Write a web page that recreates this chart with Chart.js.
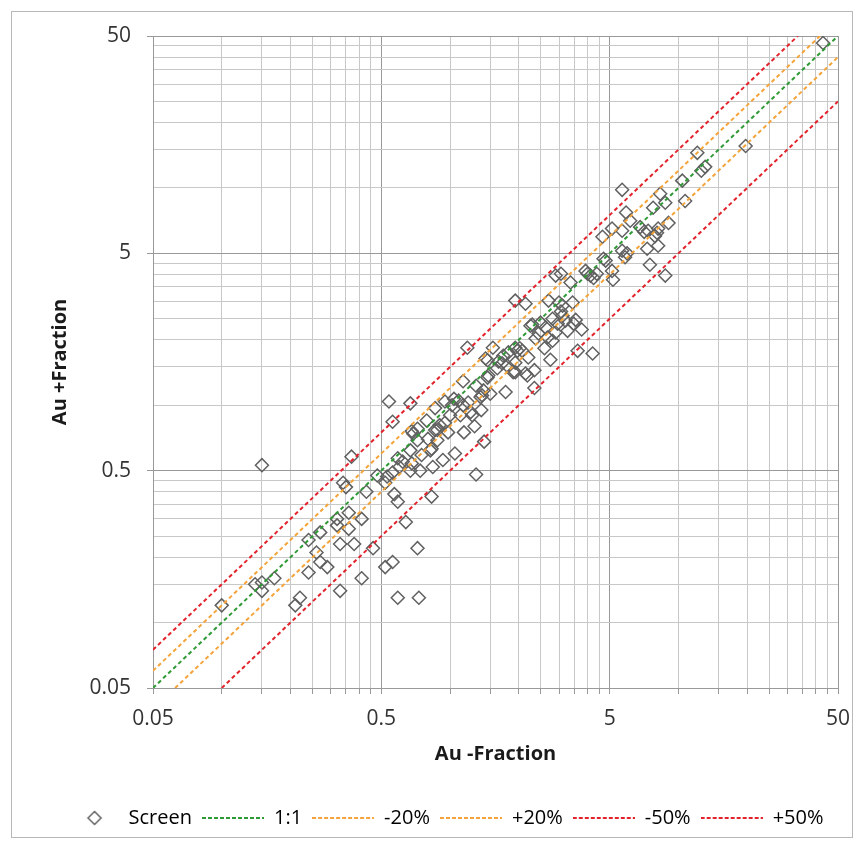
<!DOCTYPE html>
<html>
<head>
<meta charset="utf-8">
<script src="https://cdn.jsdelivr.net/npm/chart.js@4.4.0/dist/chart.umd.min.js"></script>
<style>
  html, body { margin: 0; padding: 0; background: #fff; }
  #wrap { width: 864px; height: 850px; }
</style>
</head>
<body>
<div id="wrap"><canvas id="myChart" width="864" height="850"></canvas></div>
<script>
// Au in the minus fraction (x) against the plus fraction (y)
var screenX = [
  0.10, 0.14, 0.15, 0.15, 0.17, 0.15, 0.21, 0.22, 0.24, 0.27,
  0.26, 0.27, 0.29, 0.24, 0.33, 0.33, 0.32, 0.32, 0.36, 0.36,
  0.38, 0.37, 0.34, 0.35, 0.41, 0.41, 0.43, 0.46, 0.48, 0.52,
  0.52, 0.56, 0.56, 0.59, 0.57, 0.59, 0.59, 0.54, 0.56, 0.64,
  0.60, 0.62, 0.68, 0.67, 0.67, 0.68, 0.72, 0.72, 0.72, 0.73,
  0.75, 0.83, 0.79, 0.80, 0.82, 0.84, 0.86, 0.88, 0.88, 0.90,
  0.93, 0.95, 0.95, 0.98, 1.00, 1.02, 1.04, 1.05, 1.09, 1.11,
  1.14, 1.14, 1.15, 1.19, 1.23, 1.25, 1.28, 1.30, 1.30, 1.36,
  1.37, 1.38, 1.40, 1.41, 1.46, 1.46, 1.47, 1.50, 1.54, 1.61,
  1.63, 1.69, 1.71, 1.75, 1.78, 1.80, 1.93, 1.93, 1.93, 1.93,
  1.97, 2.02, 2.14, 2.14, 2.18, 2.20, 2.29, 2.34, 2.34, 2.37,
  2.44, 2.49, 2.62, 2.59, 2.67, 2.70, 2.75, 2.81, 2.81, 2.90,
  2.96, 3.00, 3.06, 3.06, 3.11, 3.11, 3.20, 3.37, 3.44, 3.48,
  3.55, 3.62, 3.77, 3.92, 4.00, 4.12, 4.21, 4.25, 4.39, 4.65,
  4.70, 4.80, 5.12, 5.12, 5.17, 5.67, 5.67, 5.67, 5.90, 5.96,
  6.15, 6.80, 7.08, 7.30, 7.37, 7.50, 7.75, 7.90, 8.06, 8.15,
  8.15, 8.32, 8.76, 8.76, 9.05, 10.4, 10.7, 12.1, 12.6, 13.1,
  19.7, 43.0, 5.84, 2.25, 2.90, 3.27, 2.07, 1.43, 1.89, 1.20,
  0.69, 0.86, 0.83, 0.74, 0.53, 0.67
];
var screenY = [
  0.12, 0.15, 0.153, 0.14, 0.16, 0.53, 0.12, 0.13, 0.24, 0.26,
  0.21, 0.19, 0.18, 0.17, 0.23, 0.14, 0.30, 0.28, 0.32, 0.27,
  0.23, 0.58, 0.44, 0.42, 0.30, 0.16, 0.40, 0.22, 0.475, 0.44,
  0.18, 0.49, 0.19, 0.57, 0.39, 0.36, 0.13, 1.04, 0.84, 0.29,
  0.52, 0.55, 0.54, 0.62, 1.02, 0.76, 0.78, 0.69, 0.22, 0.13,
  0.59, 0.38, 0.85, 0.70, 0.62, 0.52, 0.97, 0.69, 0.77, 0.81,
  0.56, 1.04, 0.83, 0.75, 0.90, 1.00, 1.07, 0.60, 1.05, 0.90,
  1.29, 1.00, 0.75, 1.84, 0.93, 0.90, 0.80, 1.23, 0.48, 1.09,
  0.95, 1.11, 1.17, 0.68, 1.34, 1.61, 1.37, 1.13, 1.84, 1.48,
  1.59, 1.56, 1.69, 1.15, 1.52, 1.75, 1.57, 1.84, 3.03, 1.42,
  1.78, 1.83, 2.93, 1.40, 1.37, 1.66, 2.35, 1.45, 1.20, 2.03,
  2.14, 2.40, 2.28, 1.83, 2.05, 3.03, 1.62, 2.50, 1.98, 3.95,
  2.37, 2.97, 2.70, 4.03, 2.58, 2.87, 2.45, 3.67, 2.97, 2.37,
  2.47, 1.78, 2.23, 4.15, 4.03, 3.95, 1.73, 3.85, 4.03, 5.96,
  4.72, 4.63, 6.50, 4.15, 3.78, 9.80, 6.35, 5.14, 7.70, 5.00,
  7.06, 6.60, 6.28, 5.25, 6.35, 4.43, 8.10, 6.00, 6.22, 6.50,
  5.42, 9.40, 8.54, 3.95, 6.90, 10.8, 8.70, 14.5, 12.0, 12.5,
  15.6, 46.4, 4.80, 2.32, 2.16, 2.20, 1.78, 1.64, 1.42, 1.03,
  0.74, 0.77, 0.63, 0.50, 0.47, 0.50
];

// reference lines, end points on the plot frame
var oneToOneX = [0.05, 50],   oneToOneY = [0.05, 50];
var minus20X  = [0.0625, 50], minus20Y  = [0.05, 40];
var plus20X   = [0.05, 41.67], plus20Y  = [0.06, 50];
var minus50X  = [0.1, 50],    minus50Y  = [0.05, 25];
var plus50X   = [0.05, 33.33], plus50Y  = [0.075, 50];

// log axis: labelled decades plus the grid steps in between
var tickValues = [
  0.05, 0.1, 0.15, 0.2, 0.25, 0.3, 0.35, 0.4, 0.45,
  0.5, 1, 1.5, 2, 2.5, 3, 3.5, 4, 4.5,
  5, 10, 15, 20, 25, 30, 35, 40, 45, 50
];
var tickLabels = [0.05, 0.5, 5, 50];

var legendNames = ['Screen', '1:1', '-20%', '+20%', '-50%', '+50%'];
var green = '#2f9a35', orange = '#f4a43a', red = '#e3232c';
var markColor = '#606060';

function pairs(xs, ys) {
  return xs.map(function (x, i) { return {x: x, y: ys[i]}; });
}
function isMajor(v) { return tickLabels.indexOf(v) >= 0; }

// little pictures for the legend
var sampleW = 62;
function dashSample(color) {
  var c = document.createElement('canvas');
  c.width = sampleW; c.height = 4;
  var g = c.getContext('2d');
  g.strokeStyle = color; g.lineWidth = 2; g.setLineDash([4, 2]);
  g.beginPath(); g.moveTo(0, 2); g.lineTo(sampleW, 2); g.stroke();
  return c;
}
function diamondSample() {
  var c = document.createElement('canvas');
  c.width = sampleW; c.height = 16;
  var g = c.getContext('2d');
  g.strokeStyle = markColor; g.lineWidth = 1.5;
  g.beginPath();
  g.moveTo(38, 1.5); g.lineTo(44.5, 8); g.lineTo(38, 14.5); g.lineTo(31.5, 8);
  g.closePath(); g.stroke();
  return c;
}
var legendPics = [diamondSample(), dashSample(green), dashSample(orange),
                  dashSample(orange), dashSample(red), dashSample(red)];

var frame = {
  id: 'frame',
  beforeDraw: function (chart) {
    var c = chart.ctx;
    c.save();
    c.fillStyle = '#fff';
    c.fillRect(0, 0, chart.width, chart.height);
    c.strokeStyle = '#b8b8b8';
    c.lineWidth = 1;
    c.strokeRect(11.5, 11.5, 841, 826);
    c.restore();
  }
};

function refLine(label, xs, ys, color) {
  return {
    type: 'line', label: label, data: pairs(xs, ys), showLine: true,
    borderColor: color, borderWidth: 2, borderDash: [4, 3],
    pointRadius: 0, fill: false, order: 0
  };
}

function gridColor(c) { return c.tick && isMajor(c.tick.value) ? '#999999' : '#c8c8c8'; }

var font = 'Open Sans';
var ctx = document.getElementById('myChart').getContext('2d');
var chart = new Chart(ctx, {
  type: 'scatter',
  data: {
    datasets: [
      {
        label: 'Screen',
        data: pairs(screenX, screenY),
        pointStyle: 'rectRot',
        pointRadius: 6.5,
        pointBorderWidth: 1.5,
        borderColor: markColor,
        backgroundColor: 'rgba(0,0,0,0)',
        order: 1
      },
      refLine('1:1', oneToOneX, oneToOneY, green),
      refLine('-20%', minus20X, minus20Y, orange),
      refLine('+20%', plus20X, plus20Y, orange),
      refLine('-50%', minus50X, minus50Y, red),
      refLine('+50%', plus50X, plus50Y, red)
    ]
  },
  plugins: [frame],
  options: {
    responsive: false,
    animation: false,
    layout: { padding: { left: 42, right: 26, top: 36, bottom: 12 } },
    plugins: {
      tooltip: { enabled: false },
      legend: {
        position: 'bottom',
        labels: {
          usePointStyle: true,
          pointStyleWidth: sampleW,
          padding: 10,
          color: '#333333',
          font: { family: font, size: 20 },
          generateLabels: function () {
            return legendNames.map(function (name, i) {
              return { text: name, pointStyle: legendPics[i], fillStyle: 'rgba(0,0,0,0)',
                       strokeStyle: 'rgba(0,0,0,0)', lineWidth: 0, hidden: false, datasetIndex: i };
            });
          }
        }
      }
    },
    scales: {
      x: {
        type: 'logarithmic', min: 0.05, max: 50,
        afterBuildTicks: function (s) { s.ticks = tickValues.map(function (v) { return {value: v}; }); },
        afterFit: function (s) { s.height = 110; },
        ticks: {
          autoSkip: false, maxRotation: 0, padding: 12, color: '#333333',
          font: { family: font, size: 21 },
          callback: function (v) { return isMajor(v) ? String(v) : ''; }
        },
        grid: { tickLength: 6, color: gridColor, tickColor: '#999999' },
        border: { color: '#999999' },
        title: {
          display: true, text: 'Au -Fraction', color: '#1a1a1a',
          font: { family: font, size: 20, weight: 'bold' },
          padding: { top: 0, bottom: 32 }
        }
      },
      y: {
        type: 'logarithmic', min: 0.05, max: 50,
        afterBuildTicks: function (s) { s.ticks = tickValues.map(function (v) { return {value: v}; }); },
        afterFit: function (s) { s.width = 111; },
        ticks: {
          autoSkip: false, padding: 16, color: '#333333',
          font: { family: font, size: 21 },
          callback: function (v) { return isMajor(v) ? String(v) : ''; }
        },
        grid: {
          tickLength: 6,
          color: gridColor,
          tickColor: function (c) { return c.tick && isMajor(c.tick.value) ? '#999999' : 'rgba(0,0,0,0)'; }
        },
        border: { color: '#999999' },
        title: {
          display: true, text: 'Au +Fraction', color: '#1a1a1a',
          font: { family: font, size: 20, weight: 'bold' },
          padding: { top: 6, bottom: 0 }
        }
      }
    }
  }
});
</script>
</body>
</html>
